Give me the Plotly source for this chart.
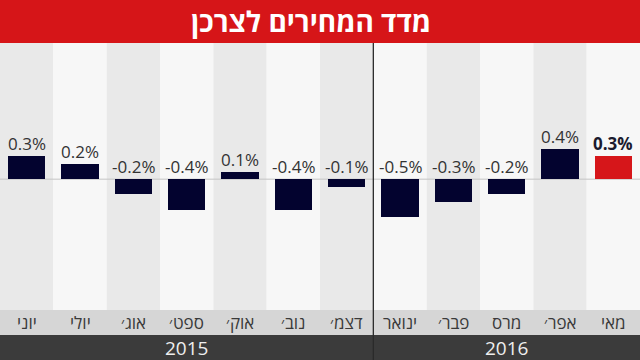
import plotly.graph_objects as go

title = "מדד המחירים לצרכן"
months = ["יוני", "יולי", "אוג׳", "ספט׳", "אוק׳", "נוב׳", "דצמ׳", "ינואר", "פבר׳", "מרס", "אפר׳", "מאי"]
values = [0.3, 0.2, -0.2, -0.4, 0.1, -0.4, -0.1, -0.5, -0.3, -0.2, 0.4, 0.3]
years = ["2015", "2016"]
year_counts = [7, 5]

W, H = 640, 360
TOP, BOT = 43, 50
PH = H - TOP - BOT

NAVY = "#03032f"
RED = "#d6161a"
FONT = "Open Sans"

x = list(range(len(months)))
colors = [NAVY] * (len(values) - 1) + [RED]

fig = go.Figure()
fig.add_trace(go.Bar(x=x, y=values, width=0.7, marker=dict(color=colors, line=dict(width=0)),
                     hoverinfo="skip"))

shapes = []
# alternating column backgrounds
for i in x:
    shapes.append(dict(type="rect", xref="x", yref="paper", x0=i - 0.5, x1=i + 0.5, y0=0, y1=1,
                       fillcolor="#e9e9e9" if i % 2 == 0 else "#f7f7f7", line=dict(width=0), layer="below"))
# zero line
shapes.append(dict(type="line", xref="paper", yref="y", x0=0, x1=1, y0=0, y1=0,
                   line=dict(color="#c4c4c4", width=1), layer="below"))
# category strip
shapes.append(dict(type="rect", xref="paper", yref="paper", x0=0, x1=1, y0=-25 / PH, y1=0,
                   fillcolor="#d6d6d6", line=dict(width=0)))
# year strip
shapes.append(dict(type="rect", xref="paper", yref="paper", x0=0, x1=1, y0=-50 / PH - 0.01, y1=-25 / PH,
                   fillcolor="#3b3b3b", line=dict(width=0)))
# title band
shapes.append(dict(type="rect", xref="paper", yref="paper", x0=0, x1=1, y0=1, y1=1 + TOP / PH + 0.01,
                   fillcolor="#d61518", line=dict(width=0)))
# year separator
sep = year_counts[0] - 0.5
shapes.append(dict(type="line", xref="x", yref="paper", x0=sep, x1=sep, y0=-50 / PH - 0.01, y1=1,
                   line=dict(color="#2b2b2b", width=1.3)))

annotations = []
for i, (m, v) in enumerate(zip(months, values)):
    last = i == len(values) - 1
    txt = f"{v:.1f}%"
    annotations.append(dict(x=i, y=max(v, 0), xref="x", yref="y", text=f"<b>{txt}</b>" if last else txt,
                            showarrow=False, yanchor="bottom", yshift=-1,
                            font=dict(family=FONT, size=17, color="#1b1b2e" if last else "#333333")))
    annotations.append(dict(x=i, y=-12.5 / PH, xref="x", yref="paper", text=m, showarrow=False,
                            yanchor="middle", font=dict(family=FONT, size=17, color="#3a3a3a")))

start = 0
for yr, c in zip(years, year_counts):
    center = start + (c - 1) / 2
    annotations.append(dict(x=center, y=-37.5 / PH, xref="x", yref="paper", text=yr, showarrow=False,
                            yanchor="middle", font=dict(family=FONT, size=19, color="#eeeeee")))
    start += c

annotations.append(dict(x=311 / W, y=1 + 21.5 / PH, xref="paper", yref="paper", text=f"<b>{title}</b>",
                        showarrow=False, yanchor="middle", xanchor="center",
                        font=dict(family=FONT, size=28, color="#ffffff")))

fig.update_layout(
    width=W, height=H,
    margin=dict(l=0, r=0, t=TOP, b=BOT, pad=0),
    paper_bgcolor="#ffffff", plot_bgcolor="#ffffff",
    showlegend=False,
    xaxis=dict(range=[-0.5, len(months) - 0.5], showticklabels=False, showgrid=False, zeroline=False,
               fixedrange=True),
    yaxis=dict(range=[-1.72, 1.79], showticklabels=False, showgrid=False, zeroline=False, fixedrange=True),
    shapes=shapes, annotations=annotations,
    bargap=0,
)

fig.write_html("out.html", config={"displayModeBar": False},
               post_script="document.body.style.margin='0';document.body.style.overflow='hidden';")
